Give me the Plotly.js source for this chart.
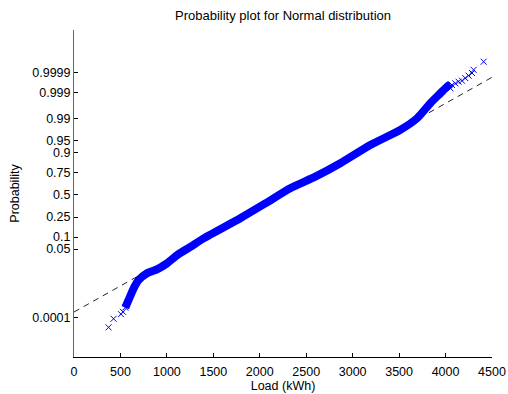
<!DOCTYPE html>
<html>
<head>
<meta charset="utf-8">
<script src="https://cdn.plot.ly/plotly-3.0.1.min.js"></script>
<style>html,body{margin:0;padding:0;background:#fff}#chart{width:508px;height:394px}</style>
</head>
<body>
<div id="chart"></div>
<script>
// Probability tick marks on the normal-quantile axis
const yTickProbs = [0.0001, 0.05, 0.1, 0.25, 0.5, 0.75, 0.9, 0.95, 0.99, 0.999, 0.9999];
const yTickText = ['0.0001', '0.05', '0.1', '0.25', '0.5', '0.75', '0.9', '0.95', '0.99', '0.999', '0.9999'];
const xTickVals = [0, 500, 1000, 1500, 2000, 2500, 3000, 3500, 4000, 4500];

// Lower tail (sparse crosses)
const lowLoad = [372, 426, 506, 527, 552];
const lowProb = [0.000029, 0.000085, 0.000147, 0.000193, 0.000313];

// Dense body of the sample (read along the centre of the band)
const bodyLoad = [552, 588, 642, 695, 786, 894, 1001, 1109, 1252, 1395, 1790, 2059, 2328, 2598, 2867, 3190, 3513, 3692, 3836, 3943, 4015, 4053];
const bodyProb = [0.000313, 0.00071, 0.00226, 0.0048, 0.0087, 0.0119, 0.0188, 0.0336, 0.0571, 0.0934, 0.239, 0.397, 0.579, 0.709, 0.831, 0.9345, 0.9756, 0.9898, 0.99728, 0.99896, 0.99948, 0.99960];

// Upper tail (sparse crosses)
const highLoad = [4053, 4069, 4105, 4140, 4177, 4212, 4248, 4285, 4302, 4410];
const highProb = [0.99938, 0.99957, 0.99964, 0.99970, 0.99973, 0.99980, 0.99985, 0.99989, 0.999925, 0.999973];

// Reference line through quartiles
const fitMean = 2247;
const fitSigma = 632;
const xRange = [0, 4500];
const zRange = [-4.92, 5.0];

// inverse standard normal CDF (Acklam)
function norminv(p) {
  const a = [-3.969683028665376e+01, 2.209460984245205e+02, -2.759285104469687e+02, 1.383577518672690e+02, -3.066479806614716e+01, 2.506628277459239e+00];
  const b = [-5.447609879822406e+01, 1.615858368580409e+02, -1.556989798598866e+02, 6.680131188771972e+01, -1.328068155288572e+01];
  const c = [-7.784894002430293e-03, -3.223964580411365e-01, -2.400758277161838e+00, -2.549732539343734e+00, 4.374664141464968e+00, 2.938163982698783e+00];
  const d = [7.784695709041462e-03, 3.224671290700398e-01, 2.445134137142996e+00, 3.754408661907416e+00];
  const pl = 0.02425, ph = 1 - pl;
  let q, r;
  if (p < pl) {
    q = Math.sqrt(-2 * Math.log(p));
    return (((((c[0]*q+c[1])*q+c[2])*q+c[3])*q+c[4])*q+c[5]) / ((((d[0]*q+d[1])*q+d[2])*q+d[3])*q+1);
  } else if (p <= ph) {
    q = p - 0.5; r = q*q;
    return (((((a[0]*r+a[1])*r+a[2])*r+a[3])*r+a[4])*r+a[5])*q / (((((b[0]*r+b[1])*r+b[2])*r+b[3])*r+b[4])*r+1);
  } else {
    q = Math.sqrt(-2 * Math.log(1 - p));
    return -(((((c[0]*q+c[1])*q+c[2])*q+c[3])*q+c[4])*q+c[5]) / ((((d[0]*q+d[1])*q+d[2])*q+d[3])*q+1);
  }
}

const blue = '#0000ff';
const font = 'Liberation Sans, Arial, Helvetica, sans-serif';

const traces = [
  {
    x: xRange,
    y: xRange.map(v => (v - fitMean) / fitSigma),
    mode: 'lines',
    line: {color: '#222', width: 1, dash: '6px,5px'},
    hoverinfo: 'skip'
  },
  {
    x: bodyLoad,
    y: bodyProb.map(norminv),
    mode: 'lines',
    line: {color: blue, width: 8, shape: 'spline', smoothing: 0.6}
  },
  {
    x: lowLoad.concat(highLoad),
    y: lowProb.concat(highProb).map(norminv),
    mode: 'markers',
    marker: {symbol: 'x-thin', size: 6, color: blue, line: {color: blue, width: 1}}
  }
];

const layout = {
  width: 508, height: 394,
  margin: {l: 74, r: 16, t: 30, b: 37},
  paper_bgcolor: '#fff', plot_bgcolor: '#fff',
  showlegend: false,
  font: {family: font, size: 12.5, color: '#000'},
  title: {text: 'Probability plot for Normal distribution', font: {family: font, size: 13, color: '#000'}, x: 0.5, xanchor: 'center', xref: 'paper', y: 0.96, yanchor: 'middle'},
  xaxis: {
    range: xRange, tickvals: xTickVals, ticktext: xTickVals.map(String),
    ticks: 'inside', ticklen: 4, tickcolor: '#000', tickwidth: 1,
    showline: true, linecolor: '#000', linewidth: 1, mirror: false,
    showgrid: false, zeroline: false,
    ticklabelstandoff: 3,
    tickfont: {family: font, size: 12.5},
    title: {text: 'Load (kWh)', font: {family: font, size: 12.5}, standoff: 2}
  },
  yaxis: {
    range: zRange, tickvals: yTickProbs.map(norminv), ticktext: yTickText,
    ticks: 'inside', ticklen: 4, tickcolor: '#000', tickwidth: 1,
    showline: true, linecolor: '#666', linewidth: 1, mirror: false,
    showgrid: false, zeroline: false,
    tickfont: {family: font, size: 12.5},
    title: {text: 'Probability', font: {family: font, size: 12.5}, standoff: 9}
  }
};

Plotly.newPlot('chart', traces, layout, {displayModeBar: false, staticPlot: true});
</script>
</body>
</html>
